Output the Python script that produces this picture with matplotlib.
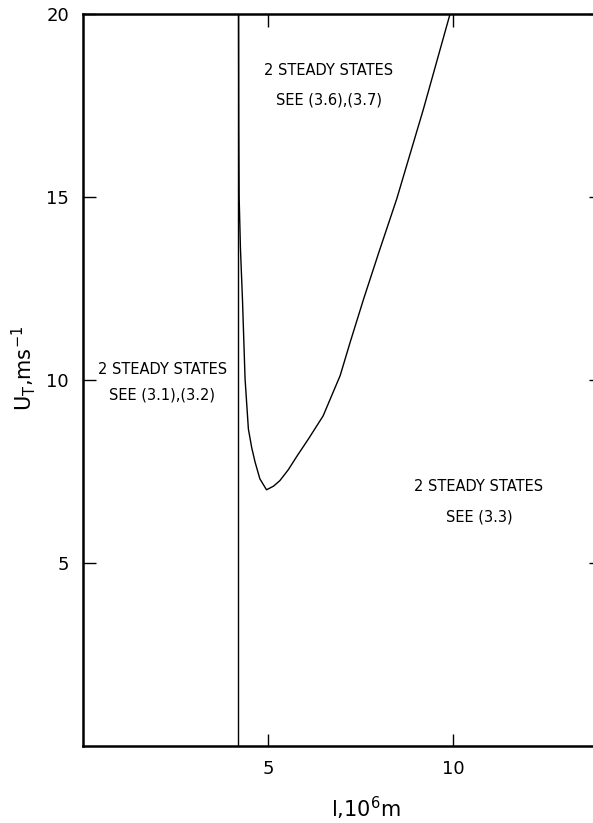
import matplotlib
matplotlib.use("Agg")
import matplotlib.pyplot as plt

# boundary curve (l in 10^6 m, U_T in m/s)
curve_l = [4.205, 4.21, 4.22, 4.255, 4.31, 4.38, 4.47, 4.56, 4.65, 4.78, 4.96,
           5.15, 5.32, 5.55, 5.77, 6.1, 6.49, 6.95, 7.22, 7.58, 8.0, 8.48, 9.2, 9.92]
curve_u = [20.0, 17.0, 15.0, 13.6, 12.2, 10.03, 8.66, 8.15, 7.76, 7.3, 7.0,
           7.1, 7.25, 7.55, 7.9, 8.4, 9.02, 10.12, 11.03, 12.2, 13.5, 14.95, 17.4, 20.0]
vline_l = 4.2

region_text = [
    ("2 STEADY STATES", "SEE (3.1),(3.2)", 2.14, 10.3, 9.6),
    ("2 STEADY STATES", "SEE (3.6),(3.7)", 6.65, 18.45, 17.65),
    ("2 STEADY STATES", "SEE (3.3)", 10.7, 7.1, 6.25),
]

x_ticks = [5, 10]
y_ticks = [5, 10, 15, 20]

fig = plt.figure(figsize=(5.93, 8.23), dpi=100)
ax = fig.add_axes([83 / 593, (823 - 746) / 823, 518 / 593, 732 / 823])

ax.plot(curve_l, curve_u, color="black", linewidth=1.0)
ax.axvline(vline_l, color="black", linewidth=1.0)

for line1, line2, x, y1, y2 in region_text:
    ax.text(x, y1, line1, ha="center", va="center", fontsize=10.5)
    ax.text(x, y2, line2, ha="center", va="center", fontsize=10.5)

ax.set_xlim(0, 14)
ax.set_ylim(0, 20)
ax.set_xticks(x_ticks)
ax.set_yticks(y_ticks)
ax.tick_params(direction="in", length=9, width=1.0, labelsize=13,
               top=True, right=True, pad=10)

for s in ax.spines.values():
    s.set_linewidth(1.8)

ax.set_xlabel(r"l,10$^6$m", fontsize=15)
ax.xaxis.set_label_coords(0.546, -0.066)
ax.set_ylabel(r"U$_\mathrm{T}$,ms$^{-1}$", fontsize=15)
ax.yaxis.set_label_coords(-0.086, 0.516)

fig.savefig("out.png", dpi=100)
